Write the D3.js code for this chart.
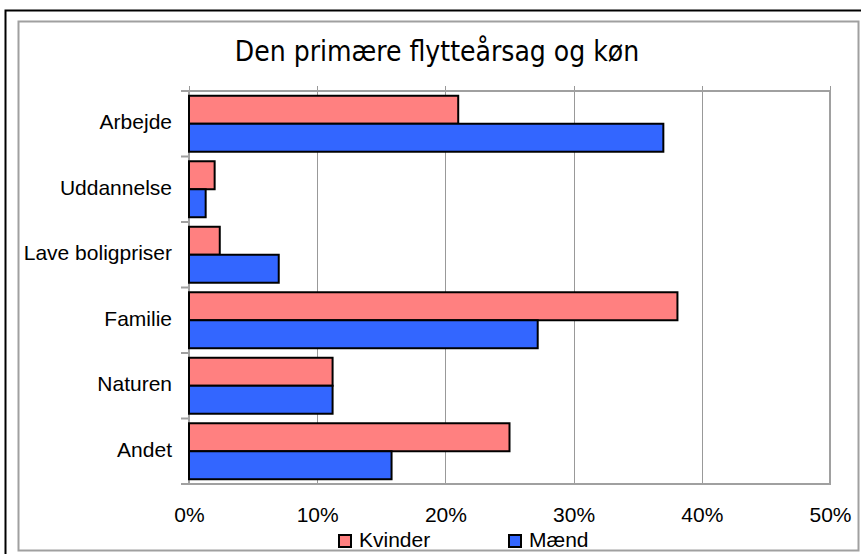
<!DOCTYPE html>
<html>
<head>
<meta charset="utf-8">
<script src="https://cdn.jsdelivr.net/npm/d3@7"></script>
<style>
  body { margin: 0; background: #fff; }
  svg { display: block; }
</style>
</head>
<body>
<script>
// data
const categories = ["Arbejde", "Uddannelse", "Lave boligpriser", "Familie", "Naturen", "Andet"];
const seriesNames = ["Kvinder", "Mænd"];
const kvinder = [21.0, 2.0, 2.4, 38.1, 11.2, 25.0];
const maend = [37.0, 1.3, 7.0, 27.2, 11.2, 15.8];
const tickValues = [0, 10, 20, 30, 40, 50];
const colors = ["#ff8080", "#3366ff"];

const width = 861, height = 554;
const plot = {left: 189, right: 830, top: 91, bottom: 484};
const labelFont = "21px";

const svg = d3.select("body").append("svg")
    .attr("width", width)
    .attr("height", height)
    .style("font-family", "'Liberation Sans', Arial, sans-serif");

// outer frame (black) and inner frame (grey)
svg.append("rect")
    .attr("x", 5.5).attr("y", 10.5)
    .attr("width", 860).attr("height", 560)
    .attr("fill", "none").attr("stroke", "#000").attr("stroke-width", 2);
svg.append("rect")
    .attr("x", 18.5).attr("y", 21.5)
    .attr("width", 840).attr("height", 529)
    .attr("fill", "#fff").attr("stroke", "#a0a0a0").attr("stroke-width", 2);

svg.append("text")
    .attr("x", 437).attr("y", 61)
    .attr("text-anchor", "middle")
    .style("font-family", "'DejaVu Sans Condensed', 'DejaVu Sans', Verdana, sans-serif")
    .style("font-stretch", "condensed")
    .style("font-size", "28px")
    .text("Den primære flytteårsag og køn");

const x = d3.scaleLinear().domain([0, 50]).range([plot.left, plot.right]);
const y = d3.scaleBand().domain(categories).range([plot.top, plot.bottom]);
const ySub = d3.scaleBand().domain(seriesNames).range([0, y.bandwidth()])
    .paddingOuter(0.17);

// gridlines with small ticks above the plot
svg.append("g")
    .attr("stroke", "#999")
    .selectAll("line")
    .data(tickValues)
    .join("line")
      .attr("x1", d => Math.round(x(d)) + 0.5)
      .attr("x2", d => Math.round(x(d)) + 0.5)
      .attr("y1", plot.top - 5)
      .attr("y2", plot.bottom);

// plot border
svg.append("rect")
    .attr("x", plot.left).attr("y", plot.top)
    .attr("width", plot.right - plot.left).attr("height", plot.bottom - plot.top)
    .attr("fill", "none").attr("stroke", "#a0a0a0").attr("stroke-width", 2);

// category ticks at band boundaries
svg.append("g")
    .attr("stroke", "#a0a0a0").attr("stroke-width", 2)
    .selectAll("line")
    .data(d3.range(categories.length + 1))
    .join("line")
      .attr("x1", plot.left - 8).attr("x2", plot.left)
      .attr("y1", i => plot.top + i * y.step())
      .attr("y2", i => plot.top + i * y.step());

// bars
const rows = categories.map((c, i) => ({category: c, values: [kvinder[i], maend[i]]}));
svg.append("g")
    .selectAll("g")
    .data(rows)
    .join("g")
      .attr("transform", d => `translate(0,${y(d.category)})`)
    .selectAll("rect")
    .data(d => d.values.map((v, j) => ({series: seriesNames[j], value: v, color: colors[j]})))
    .join("rect")
      .attr("x", x(0))
      .attr("y", d => ySub(d.series))
      .attr("width", d => x(d.value) - x(0))
      .attr("height", ySub.bandwidth())
      .attr("fill", d => d.color)
      .attr("stroke", "#000")
      .attr("stroke-width", 2);

// category labels
svg.append("g")
    .attr("text-anchor", "end")
    .style("font-size", labelFont)
    .selectAll("text")
    .data(categories)
    .join("text")
      .attr("x", 172)
      .attr("y", d => y(d) + y.bandwidth() / 2)
      .attr("dy", "0.25em")
      .text(d => d);

// x axis labels
const xAxis = d3.axisBottom(x)
    .tickValues(tickValues)
    .tickSize(0)
    .tickPadding(23)
    .tickFormat(d => d + "%");
svg.append("g")
    .attr("transform", `translate(0,${plot.bottom})`)
    .call(xAxis)
    .call(g => g.select(".domain").remove())
    .call(g => g.selectAll("text")
        .attr("fill", "#000")
        .style("font-size", labelFont)
        .style("font-family", "'Liberation Sans', Arial, sans-serif"));

// legend
const legendX = [339, 509];
const legend = svg.append("g")
    .selectAll("g")
    .data(seriesNames)
    .join("g")
      .attr("transform", (d, i) => `translate(${legendX[i]},535)`);
legend.append("rect")
    .attr("width", 12).attr("height", 12)
    .attr("fill", (d, i) => colors[i])
    .attr("stroke", "#000").attr("stroke-width", 2);
legend.append("text")
    .attr("x", 20).attr("y", 12)
    .style("font-size", labelFont)
    .text(d => d);
</script>
</body>
</html>
